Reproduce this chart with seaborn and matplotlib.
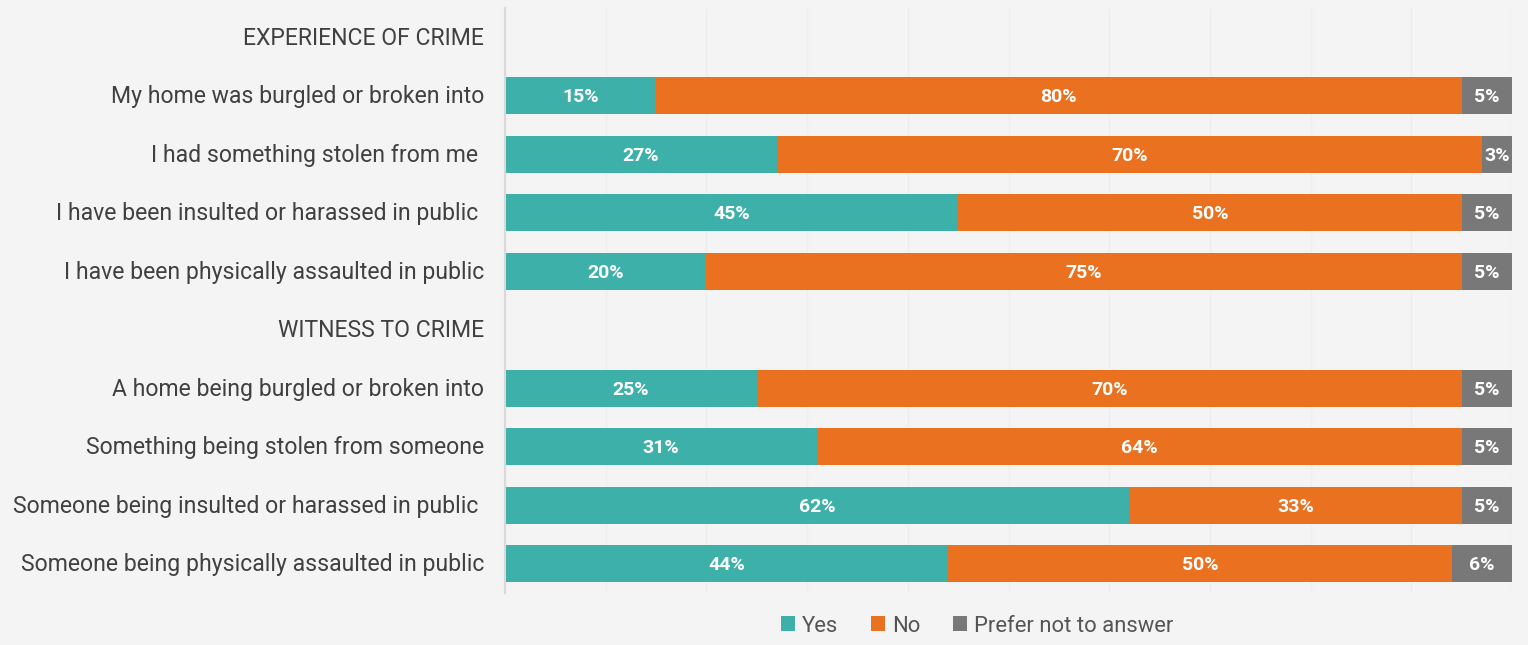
import matplotlib
matplotlib.use("Agg")
import matplotlib.pyplot as plt
import matplotlib.transforms as mtransforms
import seaborn as sns
import pandas as pd
import numpy as np
from matplotlib.patches import Patch

# Survey rows (section headers carry no values)
categories = [
    "EXPERIENCE OF CRIME",
    "My home was burgled or broken into",
    "I had something stolen from me ",
    "I have been insulted or harassed in public ",
    "I have been physically assaulted in public",
    "WITNESS TO CRIME",
    "A home being burgled or broken into",
    "Something being stolen from someone",
    "Someone being insulted or harassed in public ",
    "Someone being physically assaulted in public",
]
yes_pct = [np.nan, 15, 27, 45, 20, np.nan, 25, 31, 62, 44]
no_pct = [np.nan, 80, 70, 50, 75, np.nan, 70, 64, 33, 50]
pna_pct = [np.nan, 5, 3, 5, 5, np.nan, 5, 5, 5, 6]
series_names = ["Yes", "No", "Prefer not to answer"]

colors = {"Yes": "#3db0a9", "No": "#ea711f", "Prefer not to answer": "#787878"}
bg = "#f4f4f4"

sns.set_theme(style="white")
plt.rcParams["font.family"] = ["Roboto", "DejaVu Sans"]

df = pd.DataFrame({
    "category": categories,
    "Yes": yes_pct,
    "No": no_pct,
    "Prefer not to answer": pna_pct,
})
df["cum_yes"] = df["Yes"]
df["cum_no"] = df["Yes"] + df["No"]
df["cum_all"] = df["Yes"] + df["No"] + df["Prefer not to answer"]

fig = plt.figure(figsize=(15.28, 6.45), dpi=100, facecolor=bg)
ax = fig.add_axes([505 / 1528, 1 - 593 / 645, (1512 - 505) / 1528, (593 - 8) / 645])
ax.set_facecolor(bg)

# Stacked bars drawn as overlapping cumulative totals
for col, name in [("cum_all", "Prefer not to answer"), ("cum_no", "No"), ("cum_yes", "Yes")]:
    sns.barplot(data=df, x=col, y="category", order=categories, orient="h",
                color=colors[name], saturation=1, width=0.63, ax=ax,
                edgecolor="none", linewidth=0)

ax.set_xlim(0, 100)
ax.set_ylim(len(categories) - 0.5, -0.5)
ax.set_xlabel("")
ax.set_ylabel("")
ax.set_xticks(np.arange(0, 101, 10))
ax.set_xticklabels([])
ax.tick_params(axis="x", length=0)
ax.tick_params(axis="y", length=0, pad=15, labelsize=16.6, labelcolor="#404040")
ax.grid(axis="x", color="#eeeeee", linewidth=1)
ax.set_axisbelow(True)
for s in ["top", "right", "bottom"]:
    ax.spines[s].set_visible(False)
ax.spines["left"].set_color("#d9d9d9")
ax.spines["left"].set_linewidth(1.5)

# Nudge the category labels up slightly
lift = mtransforms.ScaledTranslation(0, 1.5 / 100, fig.dpi_scale_trans)
for lbl in ax.get_yticklabels():
    lbl.set_transform(lbl.get_transform() + lift)

# Value labels centred in each segment
drop = mtransforms.ScaledTranslation(0, -1.5 / 100, fig.dpi_scale_trans)
for i, row in df.iterrows():
    if np.isnan(row["Yes"]):
        continue
    start = 0
    for name in series_names:
        v = row[name]
        ax.text(start + v / 2, i, f"{v:.0f}%", ha="center", va="center",
                color="white", fontsize=14, fontweight="bold",
                transform=ax.transData + drop)
        start += v

handles = [Patch(facecolor=colors[n], edgecolor="none", label=n) for n in series_names]
fig.legend(handles=handles, loc="center", bbox_to_anchor=(977 / 1528, 1 - 626 / 645),
           ncol=3, frameon=False, fontsize=15.8, labelcolor="#555555",
           handlelength=0.65, handleheight=0.65, handletextpad=0.3, columnspacing=1.5)

fig.savefig("out.png", dpi=100, facecolor=bg)
